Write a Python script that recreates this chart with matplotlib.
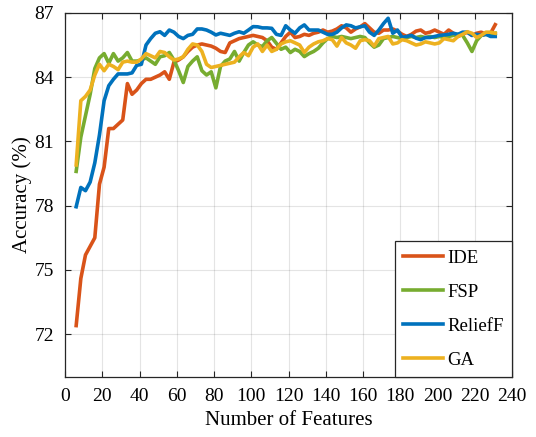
import numpy as np
import matplotlib
matplotlib.use("Agg")
import matplotlib.pyplot as plt

features = np.arange(6, 231.1, 2.5)

ide = [72.4, 74.6, 75.7, 76.1, 76.5, 79.0, 79.8, 81.6, 81.6, 81.8,
       82.0, 83.7, 83.2, 83.4, 83.7, 83.9, 83.9, 84.0, 84.1, 84.25,
       83.9, 84.7, 84.8, 84.95, 85.2, 85.4, 85.5, 85.55, 85.5, 85.45,
       85.35, 85.2, 85.15, 85.6, 85.7, 85.8, 85.85, 85.9, 85.95, 85.9,
       85.85, 85.7, 85.4, 85.3, 85.6, 85.9, 86.1, 85.85, 85.9, 86.0,
       85.95, 86.05, 86.1, 86.2, 86.1, 86.15, 86.25, 86.4, 86.3, 86.1,
       86.25, 86.35, 86.5, 86.3, 86.1, 86.05, 86.2, 86.2, 86.25, 86.15,
       86.0, 85.9, 86.0, 86.15, 86.2, 86.05, 86.1, 86.2, 86.1, 86.0,
       86.2, 86.05, 85.9, 86.0, 86.1, 85.95, 86.05, 86.1, 86.0, 86.05,
       86.45]

fsp = [79.6, 81.2, 82.2, 83.2, 84.4, 84.9, 85.1, 84.65, 85.1, 84.75,
       84.9, 85.15, 84.75, 84.75, 84.8, 84.9, 84.75, 84.6, 84.95, 85.0,
       85.15, 84.8, 84.3, 83.75, 84.5, 84.75, 84.95, 84.3, 84.1, 84.25,
       83.5, 84.5, 84.75, 84.85, 85.2, 84.75, 85.15, 85.5, 85.65, 85.5,
       85.43, 85.7, 85.85, 85.58, 85.3, 85.4, 85.15, 85.3, 85.2, 84.96,
       85.1, 85.2, 85.35, 85.6, 85.8, 85.9, 85.85, 85.9, 85.85, 85.8,
       85.85, 85.9, 85.85, 85.6, 85.4, 85.5, 85.8, 85.85, 85.9, 85.85,
       85.8, 85.85, 85.9, 85.85, 85.9, 85.85, 85.9, 85.85, 85.9, 85.85,
       85.9, 85.95, 86.0, 85.95, 85.6, 85.2, 85.7, 85.95, 86.0, 86.0,
       86.05]

relieff = [77.95, 78.85, 78.7, 79.1, 80.0, 81.3, 82.9, 83.6, 83.9, 84.15,
           84.15, 84.15, 84.2, 84.55, 84.6, 85.5, 85.8, 86.05, 86.12, 85.95,
           86.2, 86.1, 85.9, 85.8, 85.95, 86.0, 86.25, 86.25, 86.2, 86.1,
           85.97, 86.05, 86.0, 85.95, 86.05, 86.12, 86.05, 86.2, 86.36, 86.35,
           86.3, 86.3, 86.28, 86.0, 85.95, 86.4, 86.2, 86.05, 86.3, 86.44,
           86.2, 86.2, 86.2, 86.1, 86.0, 86.0, 86.1, 86.3, 86.44, 86.4,
           86.3, 86.35, 86.4, 86.1, 85.95, 86.2, 86.5, 86.75, 86.05, 86.2,
           85.85, 85.9, 85.95, 85.82, 85.75, 85.85, 85.85, 85.9, 85.95, 85.97,
           86.0, 86.05, 86.0, 86.1, 86.1, 85.95, 86.0, 85.95, 86.0, 85.9,
           85.9]

ga = [79.9, 82.9, 83.1, 83.4, 84.1, 84.6, 84.3, 84.6, 84.5, 84.35,
      84.7, 84.75, 84.7, 84.7, 84.85, 85.1, 85.0, 84.9, 85.2, 85.15,
      84.95, 84.8, 84.85, 84.95, 85.3, 85.55, 85.5, 85.2, 84.6, 84.45,
      84.5, 84.55, 84.6, 84.65, 84.7, 84.95, 85.15, 85.0, 85.4, 85.55,
      85.2, 85.5, 85.2, 85.3, 85.55, 85.65, 85.7, 85.6, 85.5, 85.15,
      85.4, 85.55, 85.65, 85.7, 85.8, 85.75, 85.45, 85.85, 85.6, 85.5,
      85.35, 85.7, 85.75, 85.7, 85.45, 85.8, 85.85, 85.9, 85.55, 85.6,
      85.75, 85.7, 85.6, 85.5, 85.55, 85.65, 85.6, 85.55, 85.6, 85.8,
      85.75, 85.7, 85.9, 86.0, 86.12, 86.05, 85.85, 85.95, 86.1, 86.1,
      86.05]

series_names = ["IDE", "FSP", "ReliefF", "GA"]
series_values = [ide, fsp, relieff, ga]
colors = ["#D95319", "#77AC30", "#0072BD", "#EDB120"]

xticks = list(range(0, 241, 20))
yticks = [72, 75, 78, 81, 84, 87]

plt.rcParams['font.family'] = ['Liberation Serif', 'DejaVu Serif']

fig = plt.figure(figsize=(5.36, 4.37), dpi=100)
ax = fig.add_axes([65/536, 1-377/437, (512-65)/536, (377-12.9)/437])

for name, vals, c in zip(series_names, series_values, colors):
    ax.plot(features, vals, color=c, lw=2.6, label=name)

ax.set_xlim(0, 240)
ax.set_ylim(70, 87)
ax.set_xticks(xticks)
ax.set_yticks(yticks)
ax.grid(True, color='#262626', alpha=0.12, lw=0.8)
ax.set_axisbelow(True)
for s in ax.spines.values():
    s.set_color('#262626')
    s.set_linewidth(0.9)
ax.tick_params(direction='in', top=True, right=True, length=4, width=0.8,
               color='#262626', labelsize=14, pad=8)
ax.set_xlabel("Number of Features", fontsize=15, labelpad=4)
ax.set_ylabel("Accuracy (%)", fontsize=15, labelpad=1.5)

leg = ax.legend(loc='lower right', fontsize=13.5, borderaxespad=0,
                fancybox=False, framealpha=1, edgecolor='#262626',
                handlelength=2.1, handletextpad=0.25, labelspacing=0.9,
                borderpad=0.45)
leg.get_frame().set_linewidth(0.9)

fig.savefig("out.png", dpi=100)
